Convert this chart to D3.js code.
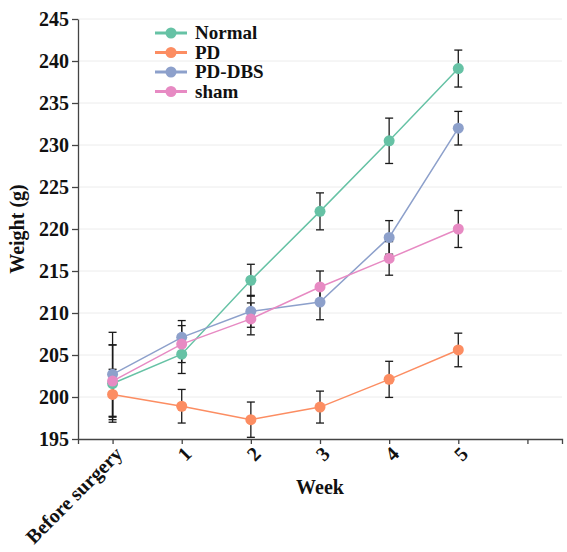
<!DOCTYPE html>
<html>
<head>
<meta charset="utf-8">
<script src="https://cdn.jsdelivr.net/npm/d3@7"></script>
<style>
  body { margin: 0; background: #fff; }
  text { font-family: "Liberation Serif", "Times New Roman", serif; font-weight: bold; }
</style>
</head>
<body>
<script>
// categories on the x axis (last one is an empty slot)
var weeks = ["Before surgery", "1", "2", "3", "4", "5", ""];
var seriesNames = ["Normal", "PD", "PD-DBS", "sham"];
var colors = ["#66c2a5", "#fc8d62", "#8da0cb", "#e78ac3"];
var yTicks = [195, 200, 205, 210, 215, 220, 225, 230, 235, 240, 245];

// mean weights per group
var normalMean = [201.6, 205.1, 213.9, 222.1, 230.5, 239.1];
var pdMean     = [200.3, 198.9, 197.3, 198.8, 202.1, 205.6];
var dbsMean    = [202.7, 207.1, 210.2, 211.3, 219.0, 232.0];
var shamMean   = [201.9, 206.3, 209.3, 213.1, 216.5, 220.0];

// error (+/-) per group
var normalErr = [4.6, 2.3, 1.9, 2.2, 2.7, 2.2];
var pdErr     = [3.0, 2.0, 2.1, 1.9, 2.15, 2.0];
var dbsErr    = [5.0, 2.0, 1.9, 2.1, 2.0, 2.0];
var shamErr   = [4.3, 2.2, 1.9, 1.9, 2.0, 2.2];

var means = [normalMean, pdMean, dbsMean, shamMean];
var errs = [normalErr, pdErr, dbsErr, shamErr];

var w = 567;
var h = 552;
var plotLeft = 78, plotRight = 562, plotTop = 19, plotBottom = 439;

var svg = d3.select("body")
            .append("svg")
            .attr("width", w)
            .attr("height", h);

var xScale = d3.scalePoint()
               .domain(weeks)
               .range([plotLeft, plotRight])
               .padding(0.5);

var yScale = d3.scaleLinear()
               .domain([195, 245])
               .range([plotBottom, plotTop]);

// gridlines
svg.append("g")
   .selectAll("line")
   .data(yTicks.slice(1))
   .enter()
   .append("line")
   .attr("x1", plotLeft)
   .attr("x2", plotRight)
   .attr("y1", function(d) { return yScale(d); })
   .attr("y2", function(d) { return yScale(d); })
   .attr("stroke", "#ececec")
   .attr("stroke-width", 1);

// build point lists
var series = seriesNames.map(function(name, i) {
  return {
    name: name,
    color: colors[i],
    points: means[i].map(function(v, j) {
      return {week: weeks[j], value: v, err: errs[i][j]};
    })
  };
});

var line = d3.line()
             .x(function(d) { return xScale(d.week); })
             .y(function(d) { return yScale(d.value); });

// lines
series.forEach(function(s) {
  svg.append("path")
     .datum(s.points)
     .attr("d", line)
     .attr("fill", "none")
     .attr("stroke", s.color)
     .attr("stroke-width", 1.5);
});

// error bars
series.forEach(function(s) {
  var g = svg.append("g")
             .attr("stroke", "#1a1a1a")
             .attr("stroke-width", 1.3);
  s.points.forEach(function(d) {
    var x = xScale(d.week);
    var y1 = yScale(d.value + d.err);
    var y2 = yScale(d.value - d.err);
    g.append("line").attr("x1", x).attr("x2", x).attr("y1", y1).attr("y2", y2);
    g.append("line").attr("x1", x - 4).attr("x2", x + 4).attr("y1", y1).attr("y2", y1);
    g.append("line").attr("x1", x - 4).attr("x2", x + 4).attr("y1", y2).attr("y2", y2);
  });
});

// points
series.forEach(function(s) {
  svg.append("g")
     .selectAll("circle")
     .data(s.points)
     .enter()
     .append("circle")
     .attr("cx", function(d) { return xScale(d.week); })
     .attr("cy", function(d) { return yScale(d.value); })
     .attr("r", 5.5)
     .attr("fill", s.color);
});

// y axis
var yAxis = svg.append("g")
   .attr("transform", "translate(" + plotLeft + ",0)")
   .call(d3.axisLeft(yScale).tickValues(yTicks).tickSizeOuter(0).tickPadding(3));
yAxis.selectAll("text")
     .style("font-size", "20px")
     .attr("fill", "#111");

// x axis
var xAxis = svg.append("g")
   .attr("transform", "translate(0," + plotBottom + ")")
   .call(d3.axisBottom(xScale).tickSizeOuter(0).tickSize(5));
xAxis.selectAll("text")
     .style("font-size", "20px")
     .attr("fill", "#111")
     .style("text-anchor", "end")
     .attr("dx", "-0.2em")
     .attr("dy", "0.55em")
     .attr("transform", "rotate(-45)");

svg.selectAll(".domain, .tick line").attr("stroke", "#444").attr("stroke-width", 1.3);

// axis titles
svg.append("text")
   .attr("transform", "translate(24," + ((plotTop + plotBottom) / 2) + ") rotate(-90)")
   .style("text-anchor", "middle")
   .style("font-size", "20px")
   .attr("fill", "#111")
   .text("Weight (g)");

svg.append("text")
   .attr("x", 320)
   .attr("y", 494)
   .style("text-anchor", "middle")
   .style("font-size", "20px")
   .attr("fill", "#111")
   .text("Week");

// legend
var legend = svg.append("g");
series.forEach(function(s, i) {
  var y = 33 + i * 19.5;
  legend.append("line")
        .attr("x1", 155).attr("x2", 187)
        .attr("y1", y).attr("y2", y)
        .attr("stroke", s.color)
        .attr("stroke-width", 3);
  legend.append("circle")
        .attr("cx", 171).attr("cy", y).attr("r", 5.5)
        .attr("fill", s.color);
  legend.append("text")
        .attr("x", 195).attr("y", y + 6)
        .style("font-size", "19px")
        .attr("fill", "#111")
        .text(s.name);
});
</script>
</body>
</html>
